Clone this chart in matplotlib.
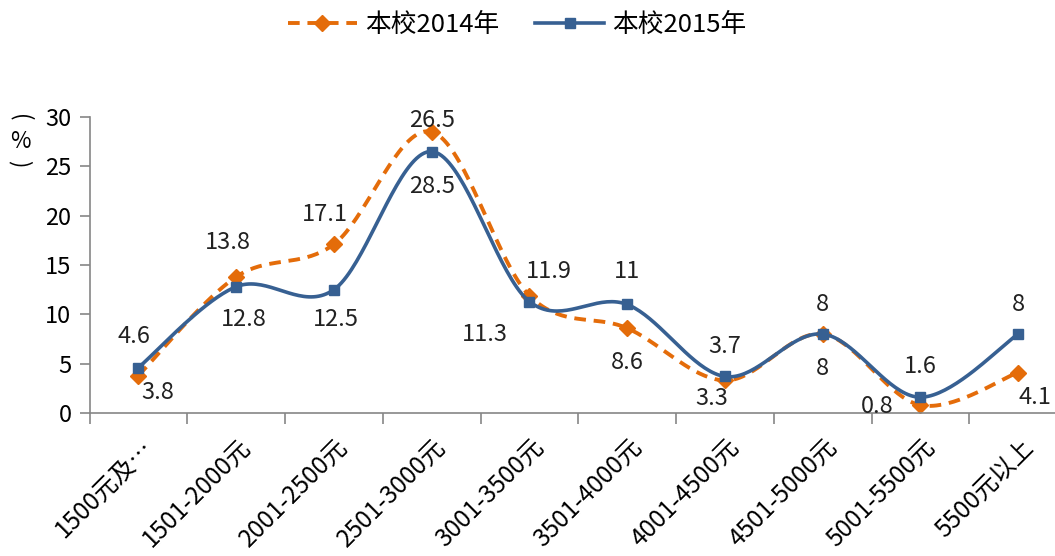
import numpy as np
import matplotlib
matplotlib.use("Agg")
import matplotlib.pyplot as plt
from matplotlib.lines import Line2D
from matplotlib.transforms import ScaledTranslation

plt.rcParams['font.family'] = ['Noto Sans CJK SC', 'DejaVu Sans']

categories = ["1500元及…", "1501-2000元", "2001-2500元", "2501-3000元", "3001-3500元",
              "3501-4000元", "4001-4500元", "4501-5000元", "5001-5500元", "5500元以上"]
y2014 = [3.8, 13.8, 17.1, 28.5, 11.9, 8.6, 3.3, 8, 0.8, 4.1]
y2015 = [4.6, 12.8, 12.5, 26.5, 11.3, 11, 3.7, 8, 1.6, 8]

# label offsets in pixels (dx, dy), copied from where Excel put them
off2014 = [(19, -17), (-8, 34), (-9, 30), (0, -55), (20, 24), (0, -34), (-13, -18), (0, -34), (-43, -1), (17, -25)]
off2015 = [(-4, 31), (8, -33), (2, -30), (0, 31), (-44, -33), (0, 33), (0, 30), (0, 30), (0, 31), (0, 30)]

orange = '#E46C0A'
blue = '#376092'


def smooth(xs, ys, n=40):
    # catmull-rom, roughly what excel does for "smoothed line"
    p = np.column_stack([xs, ys]).astype(float)
    p = np.vstack([p[0], p, p[-1]])
    out = []
    t = np.linspace(0, 1, n)[:, None]
    for i in range(1, len(p) - 2):
        p0, p1, p2, p3 = p[i - 1], p[i], p[i + 1], p[i + 2]
        c1 = p1 + (p2 - p0) / 6
        c2 = p2 - (p3 - p1) / 6
        seg = ((1 - t) ** 3) * p1 + 3 * ((1 - t) ** 2) * t * c1 + 3 * (1 - t) * t ** 2 * c2 + t ** 3 * p2
        out.append(seg)
    out = np.vstack(out)
    return out[:, 0], out[:, 1]


fig = plt.figure(figsize=(10.55, 5.56), dpi=100)
ax = fig.add_axes([89.5 / 1055, 143 / 556, (1067 - 89.5) / 1055, 296 / 556])
x = np.arange(len(categories))

sx, sy = smooth(x, y2014)
ax.plot(sx, sy, color=orange, lw=2.8, ls=(0, (3, 2)))
ax.plot(x, y2014, ls='none', marker='D', ms=8, color=orange)
sx, sy = smooth(x, y2015)
ax.plot(sx, sy, color=blue, lw=2.6)
ax.plot(x, y2015, ls='none', marker='s', ms=7.5, color=blue)

for i in range(len(x)):
    ax.annotate(f"{y2014[i]:g}", (x[i], y2014[i]), xytext=off2014[i], textcoords='offset pixels',
                ha='center', va='center', fontsize=17, color='#222222')
    ax.annotate(f"{y2015[i]:g}", (x[i], y2015[i]), xytext=off2015[i], textcoords='offset pixels',
                ha='center', va='center', fontsize=17, color='#222222')

ax.set_xlim(-0.5, 9.5)
ax.set_ylim(0, 30)
ax.set_yticks(range(0, 31, 5))
ax.set_xticks(x)
ax.set_xticklabels(categories, rotation=45, ha='right', va='center', rotation_mode='anchor', fontsize=17.5)
ax.set_xticks(np.arange(-0.5, 10, 1), minor=True)
ax.tick_params(axis='x', which='major', length=0, pad=22)
ax.tick_params(axis='x', which='minor', length=8, color='#868686', width=1.2)
ax.tick_params(axis='y', length=7, color='#868686', width=1.2, labelsize=17, pad=6)
for lbl in ax.get_xticklabels():
    lbl.set_transform(lbl.get_transform() + ScaledTranslation(0.11, 0, fig.dpi_scale_trans))
for s in ['top', 'right']:
    ax.spines[s].set_visible(False)
for s in ['left', 'bottom']:
    ax.spines[s].set_color('#868686')
    ax.spines[s].set_linewidth(1.2)

# vertical "(%)" label, parentheses turned on their side
fig.text(20 / 1055, 1 - 118 / 556, '(', ha='center', va='center', fontsize=16, rotation=-90)
fig.text(20 / 1055, 1 - 141 / 556, '%', ha='center', va='center', fontsize=16)
fig.text(20 / 1055, 1 - 164 / 556, ')', ha='center', va='center', fontsize=16, rotation=-90)

handles = [Line2D([], [], color=orange, lw=2.8, ls=(0, (3, 2)), marker='D', ms=8),
           Line2D([], [], color=blue, lw=2.6, marker='s', ms=7.5)]
fig.legend(handles, ['本校2014年', '本校2015年'], loc='center', bbox_to_anchor=(0.49, 1 - 25 / 556),
           ncol=2, frameon=False, fontsize=18.5, handlelength=2.7, handletextpad=0.3, columnspacing=1.4)

fig.savefig('out.png', dpi=100)
